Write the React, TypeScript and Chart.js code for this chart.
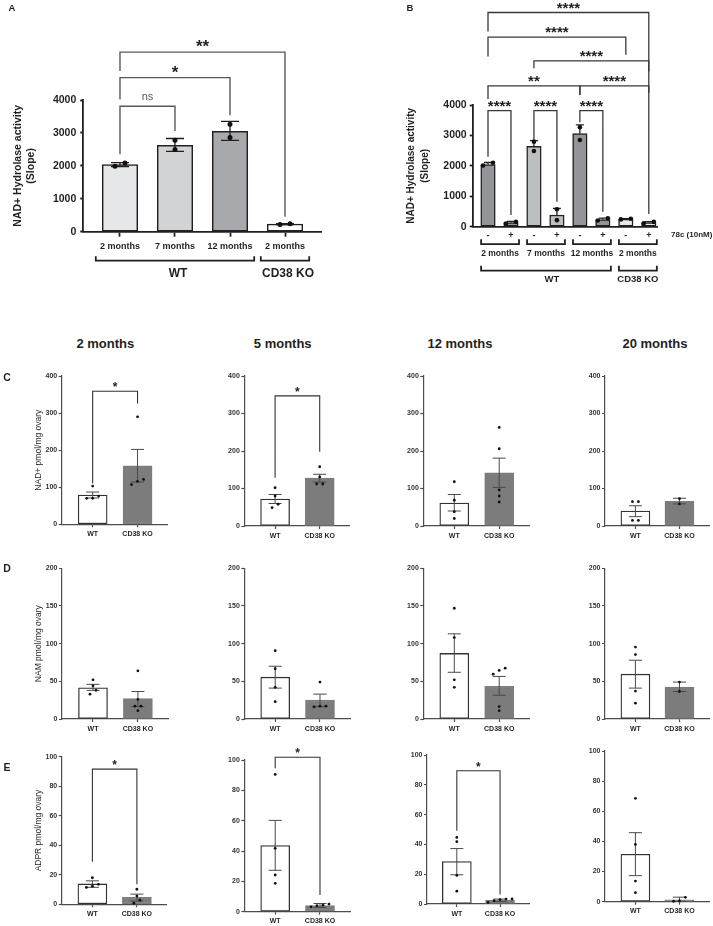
import React, { useEffect, useRef } from "react";
import { Chart, registerables } from "chart.js";
Chart.register(...registerables);

const FONT = '"Liberation Sans", Arial, Helvetica, sans-serif';
const TEXT = "#231f20";

type Bracket = [number, number, number, number, number, string];

// ---------------- Panel A ----------------
const A_LABELS = ["2 months", "7 months", "12 months", "2 months"];
const A_MEANS = [2040, 2625, 3050, 228];
const A_ERR_LO = [1980, 2440, 2775, 212];
const A_ERR_HI = [2100, 2830, 3350, 246];
const A_POINTS = [[1990, 2090], [2780, 2495], [3265, 2860], [218, 240]];
const A_FILLS = ["#e6e7e8", "#d1d3d4", "#a7a9ac", "#ffffff"];
const A_Y_TITLE = ["NAD+ Hydrolase activity", "(Slope)"];
const A_BRACKETS: Bracket[] = [
  [0, 1, 3809, 2354, 3061, "ns"],
  [0, 2, 4679, 4012, 3536, "*"],
  [0, 3, 5455, 4879, 455, "**"],
];
const A_GROUP_LABELS = ["WT", "CD38 KO"];
const A_GROUP_FROM = [0, 3];
const A_GROUP_TO = [2, 3];

// ---------------- Panel B ----------------
const B_LABELS = ["-", "+", "-", "+", "-", "+", "-", "+"];
const B_MEANS = [2045, 135, 2640, 385, 3058, 238, 250, 136];
const B_ERR_HI = [2110, 175, 2830, 600, 3345, 285, 268, 170];
const B_POINTS = [[2010, 2100], [105, 165], [2796, 2490], [575, 215], [3270, 2852], [205, 275], [240, 263], [112, 160]];
const B_FILLS = ["#939598", "#939598", "#bcbec0", "#bcbec0", "#939598", "#939598", "#e6e7e8", "#e6e7e8"];
const B_Y_TITLE = ["NAD+ Hydrolase activity", "(Slope)"];
const B_BRACKETS: Bracket[] = [
  [0, 1, 3816, 2303, 385, "****"],
  [2, 3, 3816, 2852, 822, "****"],
  [4, 5, 3816, 3434, 493, "****"],
  [0, 4, 4628, 4200, 4330, "**"],
  [4, 7, 4628, 4330, 4400, "****"],
  [2, 7, 5451, 5210, 5100, "****"],
  [0, 6, 6230, 5592, 5648, "****"],
  [0, 7, 7040, 6414, 420, "****"],
];
const B_SUB_LABELS = ["2 months", "7 months", "12 months", "2 months"];
const B_SUB_FROM = [0, 2, 4, 6];
const B_SUB_TO = [1, 3, 5, 7];
const B_GROUP_LABELS = ["WT", "CD38 KO"];
const B_GROUP_FROM = [0, 6];
const B_GROUP_TO = [5, 7];
const B_TREATMENT = "78c (10nM)";

// ---------------- Panels C/D/E ----------------
const SMALL_X_LABELS = ["WT", "CD38 KO"];
const COLUMN_TITLES = ["2 months", "5 months", "12 months", "20 months"];

const NAD_Y_TITLE = "NAD+ pmol/mg ovary";
const NAD_MEANS = [[79, 158], [72, 128], [61, 142], [40, 66]];
const NAD_ERR_LO = [[71, 114], [60, 117], [40, 103], [25, 59]];
const NAD_ERR_HI = [[87, 202], [84, 138], [84, 181], [54, 74]];
const NAD_WT_POINTS = [[103, 70, 76, 70], [102, 80, 58, 49], [118, 69, 38, 20], [65, 65, 15, 15]];
const NAD_KO_POINTS = [[290, 121, 116, 107], [158, 131, 112, 112], [263, 206, 96, 80, 64], [73, 59]];
const NAD_BRACKETS: Bracket[][] = [[[0, 1, 359, 110, 326, "*"]], [[0, 1, 347, 129, 198, "*"]], [], []];

const NAM_Y_TITLE = "NAM pmol/mg ovary";
const NAM_MEANS = [[41.5, 27], [55.5, 25], [87, 43.5], [59.5, 42.5]];
const NAM_ERR_LO = [[38, 16.5], [41, 16.5], [62, 31.5], [41, 36.5]];
const NAM_ERR_HI = [[46, 36.5], [70, 33], [113, 56.5], [78, 49]];
const NAM_WT_POINTS = [[52, 44, 38, 33], [90.7, 66.7, 42, 23], [147, 108, 52, 42], [95.5, 85.5, 37, 21]];
const NAM_KO_POINTS = [[64, 26, 17, 17, 11], [49, 17, 16, 17], [67.5, 64.5, 59.5, 16.5, 11], [49, 36.5]];
const NAM_BRACKETS: Bracket[][] = [[], [], [], []];

const ADPR_Y_TITLE = "ADPR pmol/mg ovary";
const ADPR_MEANS = [[13.8, 4.8], [43.6, 4.1], [28.5, 2.6], [31.5, 1.2]];
const ADPR_ERR_LO = [[11.5, 2.2], [27.3, 2.8], [19.6, 1.6], [17.3, 0.3]];
const ADPR_ERR_HI = [[15.9, 6.9], [60.2, 5.4], [37.2, 3.3], [45.8, 3.0]];
const ADPR_WT_POINTS = [[18, 13.5, 12.3, 11.4], [90.5, 41.8, 24.2, 18.7], [44.7, 41.8, 19.2, 8.6], [68.6, 38, 13.7, 6]];
const ADPR_KO_POINTS = [[10.2, 5.6, 2.9, 0.7], [5.0, 3.2, 4.3, 4.0], [3.3, 1.0, 3.0, 2.2, 3.4], [2.9, 0.5, 0.3]];
const ADPR_BRACKETS: Bracket[][] = [[[0, 1, 91.6, 28.9, 13.5, "*"]], [[0, 1, 101.8, 94.5, 11, "*"]], [[0, 1, 89.4, 49.2, 6.3, "*"]], []];

// ---------------- layout ----------------
const COL_BOX_X = [0, 180, 360, 540];
const COL_BOX_W = [180, 180, 180, 173];
const ROW_BOX = { C: [356, 192], D: [548, 190], E: [740, 186] } as any;
const ROW_GEOM: any = {
  C: { x0: [61.7, 244.3, 423.3, 605], x1: [167.6, 349.6, 529.3, 710], yTop: [376, 376, 376, 376], yBot: [524.3, 526, 526, 526], yMax: 400, yStep: 100, xAxisH: 16 },
  D: { x0: [62, 244.3, 423.3, 605], x1: [168, 350, 529.3, 710], yTop: [568.3, 568.3, 568.3, 568.3], yBot: [719, 719, 719, 719], yMax: 200, yStep: 50, xAxisH: 16 },
  E: { x0: [61.7, 244.3, 427, 605], x1: [166.7, 350, 529, 710], yTop: [756.7, 760, 755, 751], yBot: [904.3, 911.7, 904, 901.7], yMax: 100, yStep: 20, xAxisH: 14 },
};

function spread(vals: number[], pxPerY: number, minPx: number, stepX: number): number[] {
  const order = vals.map((_, i) => i).sort((a, b) => vals[a] - vals[b]);
  const offs = new Array(vals.length).fill(0);
  let group: number[] = [];
  const flush = () => {
    group.forEach((k, j) => (offs[k] = (j - (group.length - 1) / 2) * stepX));
    group = [];
  };
  order.forEach((k) => {
    if (group.length && Math.abs(vals[k] - vals[group[group.length - 1]]) * pxPerY > minPx) flush();
    group.push(k);
  });
  flush();
  return offs;
}

function legPath(ctx: any, xa: number, xb: number, yLeg: number, yLine: number) {
  ctx.beginPath();
  ctx.moveTo(xa, yLeg);
  ctx.lineTo(xa, yLine);
  ctx.lineTo(xb, yLine);
  ctx.lineTo(xb, yLeg);
  ctx.stroke();
}

function buildChart(canvas: HTMLCanvasElement, p: any): Chart {
  const [bx, by, bw, bh] = p.box;
  const titleOffset = p.yTitle ? (p.yTitleSize * p.yTitleLH) / 2 : 0;
  const padLeft = p.yTitle ? p.yTitleX - bx - titleOffset : 0;
  const yAxisW = p.x0 - bx - padLeft;
  const pad = { left: padLeft, top: p.yTop - by, right: bx + bw - p.x1, bottom: by + bh - p.yBot - p.xAxisH };
  const pxPerX = (p.x1 - p.x0) / (p.xMax - p.xMin);
  const pxPerY = (p.yBot - p.yTop) / p.yMax;
  const stepX = p.jitterPx / pxPerX;
  const dots: any[] = [];
  p.points.forEach((vals: number[], i: number) => {
    const offs = spread(vals, pxPerY, p.dotRadius * 2 + 1, stepX);
    vals.forEach((v, k) => dots.push({ x: i + offs[k], y: v }));
  });
  const bars = p.means.map((m: number, i: number) => ({ x: i, y: m }));
  const f = (size: number, bold = true) => ({ family: FONT, size, weight: bold ? "bold" : "normal" });

  const decor = {
    id: "decor",
    afterDatasetDraw(chart: any, args: any) {
      if (args.index !== 1) return;
      const { ctx } = chart;
      const xs = chart.scales.x;
      const ys = chart.scales.y;
      ctx.save();
      ctx.strokeStyle = p.errColor;
      ctx.lineWidth = p.errWidth;
      p.means.forEach((m: number, i: number) => {
        const cx = xs.getPixelForValue(i);
        const yl = ys.getPixelForValue(p.errLo[i]);
        const yh = ys.getPixelForValue(p.errHi[i]);
        const c = p.capPx / 2;
        ctx.beginPath();
        ctx.moveTo(cx, yl);
        ctx.lineTo(cx, yh);
        ctx.moveTo(cx - c, yh);
        ctx.lineTo(cx + c, yh);
        if (p.errLo[i] < m) {
          ctx.moveTo(cx - c, yl);
          ctx.lineTo(cx + c, yl);
        }
        ctx.stroke();
      });
      ctx.restore();
    },
    afterDraw(chart: any) {
      const { ctx } = chart;
      const xs = chart.scales.x;
      const ys = chart.scales.y;
      ctx.save();
      ctx.strokeStyle = p.brColor;
      ctx.lineWidth = p.brWidth;
      ctx.textAlign = "center";
      ctx.textBaseline = "alphabetic";
      p.brackets.forEach(([i, j, yh, yl, yr, lab]: Bracket) => {
        const xi = xs.getPixelForValue(i);
        const xj = xs.getPixelForValue(j);
        const Y = ys.getPixelForValue(yh);
        ctx.beginPath();
        ctx.moveTo(xi, ys.getPixelForValue(yl));
        ctx.lineTo(xi, Y);
        ctx.lineTo(xj, Y);
        ctx.lineTo(xj, ys.getPixelForValue(yr));
        ctx.stroke();
        if (lab === "ns") {
          ctx.font = `normal ${p.nsSize}px ${FONT}`;
          ctx.fillStyle = p.brColor;
          ctx.fillText(lab, (xi + xj) / 2, Y - p.nsGap);
        } else {
          ctx.font = `bold ${p.starSize}px ${FONT}`;
          ctx.fillStyle = TEXT;
          ctx.fillText(lab, (xi + xj) / 2, Y - p.starGap);
        }
      });
      ctx.restore();
      if (p.extra) p.extra(chart);
    },
  };

  return new Chart(canvas, {
    type: "bar",
    data: {
      datasets: [
        {
          type: "scatter",
          data: dots,
          pointRadius: p.dotRadius,
          pointBackgroundColor: "#111",
          pointBorderColor: "#111",
          pointBorderWidth: 0,
          clip: false,
        } as any,
        {
          type: "bar",
          data: bars,
          backgroundColor: p.fills,
          borderColor: p.borders,
          borderWidth: p.borderWidth,
          borderSkipped: false,
          barThickness: p.barThickness,
        } as any,
      ],
    },
    options: {
      responsive: false,
      animation: false,
      devicePixelRatio: 1,
      events: [],
      layout: { padding: pad },
      plugins: { legend: { display: false }, tooltip: { enabled: false } },
      scales: {
        x: {
          type: "linear",
          position: "bottom",
          min: p.xMin,
          max: p.xMax,
          offset: false,
          afterBuildTicks: (s: any) => {
            s.ticks = p.labels.map((_: string, i: number) => ({ value: i }));
          },
          afterFit: (s: any) => {
            s.height = p.xAxisH;
          },
          grid: {
            display: true,
            offset: false,
            drawOnChartArea: false,
            drawTicks: p.xTickLen > 0,
            tickLength: p.xTickLen,
            tickColor: p.axisColor,
            tickWidth: p.axisWidth,
          },
          border: { display: true, color: p.axisColor, width: p.axisWidth },
          ticks: {
            autoSkip: false,
            maxRotation: 0,
            minRotation: 0,
            padding: p.xTickPad,
            color: TEXT,
            font: f(p.xTickSize),
            callback: (v: any) => p.labels[Math.round(Number(v))] ?? "",
          },
        },
        y: {
          type: "linear",
          min: 0,
          max: p.yMax,
          afterBuildTicks: (s: any) => {
            const t: any[] = [];
            for (let v = 0; v <= p.yMax + 1e-9; v += p.yStep) t.push({ value: v });
            s.ticks = t;
          },
          afterFit: (s: any) => {
            s.width = yAxisW;
          },
          grid: {
            display: true,
            drawOnChartArea: false,
            drawTicks: true,
            tickLength: p.yTickLen,
            tickColor: p.axisColor,
            tickWidth: p.axisWidth,
          },
          border: { display: true, color: p.axisColor, width: p.axisWidth },
          ticks: {
            padding: p.yTickPad,
            color: p.yTickColor,
            font: f(p.yTickSize),
            callback: (v: any) => String(Math.round(Number(v))),
          },
          title: p.yTitle
            ? {
                display: true,
                text: p.yTitle,
                color: TEXT,
                padding: 0,
                font: { family: FONT, size: p.yTitleSize, weight: p.yTitleBold ? "bold" : "normal", lineHeight: p.yTitleLH },
              }
            : { display: false },
        },
      },
    } as any,
    plugins: [decor as any],
  });
}

// ---------------- panel configs ----------------
const BIG_STYLE = {
  axisColor: "#231f20",
  axisWidth: 1.8,
  yTickColor: TEXT,
  yTickLen: 3,
  errColor: "#231f20",
  errWidth: 1.3,
  dotRadius: 2.5,
  jitterPx: 10,
  brColor: "#58595b",
  brWidth: 1.4,
  nsSize: 11,
  nsGap: 6,
  starGap: 0,
  yTitleBold: true,
};

const PANEL_A = {
  ...BIG_STYLE,
  key: "A",
  box: [0, 0, 356, 300],
  x0: 83.3, x1: 321.7, yTop: 100, yBot: 231.7,
  xMin: -0.667, xMax: 3.667,
  yMax: 4000, yStep: 1000,
  labels: A_LABELS,
  means: A_MEANS, errLo: A_ERR_LO, errHi: A_ERR_HI,
  points: A_POINTS,
  fills: A_FILLS, borders: A_FILLS.map(() => "#231f20"), borderWidth: 1.5,
  barThickness: 35.5,
  brackets: A_BRACKETS,
  yTitle: A_Y_TITLE, yTitleX: 18.5, yTitleSize: 10.5, yTitleLH: 1.24,
  yTickSize: 10.5, yTickPad: 4,
  xTickSize: 9, xTickLen: 5, xTickPad: 4, xAxisH: 20,
  capPx: 18,
  starSize: 17,
  extra: (chart: any) => {
    const { ctx } = chart;
    const xs = chart.scales.x;
    const y0 = chart.scales.y.getPixelForValue(0);
    ctx.save();
    ctx.strokeStyle = TEXT;
    ctx.fillStyle = TEXT;
    ctx.lineWidth = 1.8;
    ctx.font = `bold 12px ${FONT}`;
    ctx.textAlign = "center";
    ctx.textBaseline = "middle";
    A_GROUP_LABELS.forEach((lab, g) => {
      const xa = xs.getPixelForValue(A_GROUP_FROM[g] - 0.44);
      const xb = xs.getPixelForValue(A_GROUP_TO[g] + 0.44);
      legPath(ctx, xa, xb, y0 + 24.5, y0 + 29);
      ctx.fillText(lab, (xa + xb) / 2 + 3, y0 + 41.5);
    });
    ctx.restore();
  },
};

const PANEL_B = {
  ...BIG_STYLE,
  key: "B",
  box: [356, 0, 357, 300],
  x0: 472.7, x1: 657, yTop: 105, yBot: 226.7,
  xMin: -0.666, xMax: 7.357,
  yMax: 4000, yStep: 1000,
  labels: B_LABELS,
  means: B_MEANS, errLo: B_MEANS, errHi: B_ERR_HI,
  points: B_POINTS,
  fills: B_FILLS, borders: B_FILLS.map(() => "#231f20"), borderWidth: 1.5,
  barThickness: 14.5,
  dotRadius: 2.3,
  brackets: B_BRACKETS,
  brColor: "#3a3a3a",
  brWidth: 1.3,
  yTitle: B_Y_TITLE, yTitleX: 411.7, yTitleSize: 10, yTitleLH: 1.33,
  yTickSize: 10.5, yTickPad: 3,
  xTickSize: 9, xTickLen: 0, xTickPad: 3, xAxisH: 14,
  capPx: 8,
  starSize: 15,
  extra: (chart: any) => {
    const { ctx } = chart;
    const xs = chart.scales.x;
    const y0 = chart.scales.y.getPixelForValue(0);
    ctx.save();
    ctx.strokeStyle = TEXT;
    ctx.fillStyle = TEXT;
    ctx.lineWidth = 1.8;
    ctx.textAlign = "center";
    ctx.textBaseline = "middle";
    ctx.font = `bold 8.5px ${FONT}`;
    B_SUB_LABELS.forEach((lab, g) => {
      const xa = xs.getPixelForValue(B_SUB_FROM[g] - 0.3);
      const xb = xs.getPixelForValue(B_SUB_TO[g] + 0.35);
      legPath(ctx, xa, xb, y0 + 12.5, y0 + 17.5);
      ctx.fillText(lab, (xa + xb) / 2, y0 + 26.5);
    });
    ctx.font = `bold 9.5px ${FONT}`;
    B_GROUP_LABELS.forEach((lab, g) => {
      const xa = xs.getPixelForValue(B_GROUP_FROM[g] - 0.3);
      const xb = xs.getPixelForValue(B_GROUP_TO[g] + 0.35);
      legPath(ctx, xa, xb, y0 + 39, y0 + 44);
      ctx.fillText(lab, (xa + xb) / 2 + (g === 0 ? 6 : 0), y0 + 52.5);
    });
    ctx.font = `bold 8px ${FONT}`;
    ctx.textAlign = "left";
    ctx.fillText(B_TREATMENT, chart.chartArea.right + 14, y0 + 8.5);
    ctx.restore();
  },
};

const SMALL_STYLE = {
  axisColor: "#4d4d4f",
  axisWidth: 1.2,
  yTickColor: "#333",
  yTickLen: 3,
  yTickPad: 1.5,
  yTickSize: 7,
  xTickSize: 7,
  xTickLen: 3,
  xTickPad: 2.5,
  errColor: "#4a4a4a",
  errWidth: 1,
  capPx: 13,
  dotRadius: 1.4,
  jitterPx: 6,
  brColor: "#333",
  brWidth: 1.1,
  starSize: 12,
  starGap: 0,
  nsSize: 9,
  nsGap: 4,
  yTitleBold: false,
  yTitleSize: 8.5,
  yTitleLH: 1.2,
  yTitleX: 39,
  fills: ["#ffffff", "#7c7c7c"],
  borders: ["#333333", "#7c7c7c"],
  borderWidth: 1.3,
  barThickness: 29,
  xMin: -0.69,
  xMax: 1.67,
  labels: SMALL_X_LABELS,
};

function smallRow(row: string, title: string, means: number[][], lo: number[][], hi: number[][], wt: number[][], ko: number[][], br: Bracket[][]) {
  const g = ROW_GEOM[row];
  const [by, bh] = ROW_BOX[row];
  return [0, 1, 2, 3].map((c) => ({
    ...SMALL_STYLE,
    key: row + c,
    box: [COL_BOX_X[c], by, COL_BOX_W[c], bh],
    x0: g.x0[c], x1: g.x1[c], yTop: g.yTop[c], yBot: g.yBot[c],
    yMax: g.yMax, yStep: g.yStep, xAxisH: g.xAxisH,
    means: means[c], errLo: lo[c], errHi: hi[c],
    points: [wt[c], ko[c]],
    brackets: br[c],
    yTitle: c === 0 ? title : null,
  }));
}

const PANELS: any[] = [
  PANEL_A,
  PANEL_B,
  ...smallRow("C", NAD_Y_TITLE, NAD_MEANS, NAD_ERR_LO, NAD_ERR_HI, NAD_WT_POINTS, NAD_KO_POINTS, NAD_BRACKETS),
  ...smallRow("D", NAM_Y_TITLE, NAM_MEANS, NAM_ERR_LO, NAM_ERR_HI, NAM_WT_POINTS, NAM_KO_POINTS, NAM_BRACKETS),
  ...smallRow("E", ADPR_Y_TITLE, ADPR_MEANS, ADPR_ERR_LO, ADPR_ERR_HI, ADPR_WT_POINTS, ADPR_KO_POINTS, ADPR_BRACKETS),
];

const LETTERS: [string, number, number, number][] = [
  ["A", 12, 8, 9.5],
  ["B", 410, 8, 9.5],
  ["C", 7, 377, 10.5],
  ["D", 7, 568, 10.5],
  ["E", 7, 767, 10.5],
];
const COLUMN_TITLE_X = [105.3, 282.7, 460, 655];
const COLUMN_TITLE_Y = 343;

function PanelCanvas({ cfg }: { cfg: any }) {
  const ref = useRef<HTMLCanvasElement>(null);
  useEffect(() => {
    if (!ref.current) return;
    const chart = buildChart(ref.current, cfg);
    return () => chart.destroy();
  }, [cfg]);
  const [x, y, w, h] = cfg.box;
  return (
    <canvas
      ref={ref}
      width={w}
      height={h}
      style={{ position: "absolute", left: x, top: y, width: w, height: h }}
    />
  );
}

function Label({ text, x, y, size }: { text: string; x: number; y: number; size: number }) {
  return (
    <div
      style={{
        position: "absolute",
        left: x,
        top: y,
        transform: "translate(-50%, -50%)",
        fontFamily: FONT,
        fontWeight: "bold",
        fontSize: size,
        lineHeight: 1,
        whiteSpace: "nowrap",
        color: TEXT,
      }}
    >
      {text}
    </div>
  );
}

export default function App() {
  return (
    <div
      style={{
        position: "absolute",
        left: 0,
        top: 0,
        width: 713,
        height: 926,
        overflow: "hidden",
        background: "#ffffff",
      }}
    >
      {PANELS.map((p) => (
        <PanelCanvas key={p.key} cfg={p} />
      ))}
      {LETTERS.map(([t, x, y, s]) => (
        <Label key={t} text={t} x={x} y={y} size={s} />
      ))}
      {COLUMN_TITLES.map((t, i) => (
        <Label key={t} text={t} x={COLUMN_TITLE_X[i]} y={COLUMN_TITLE_Y} size={13} />
      ))}
    </div>
  );
}
